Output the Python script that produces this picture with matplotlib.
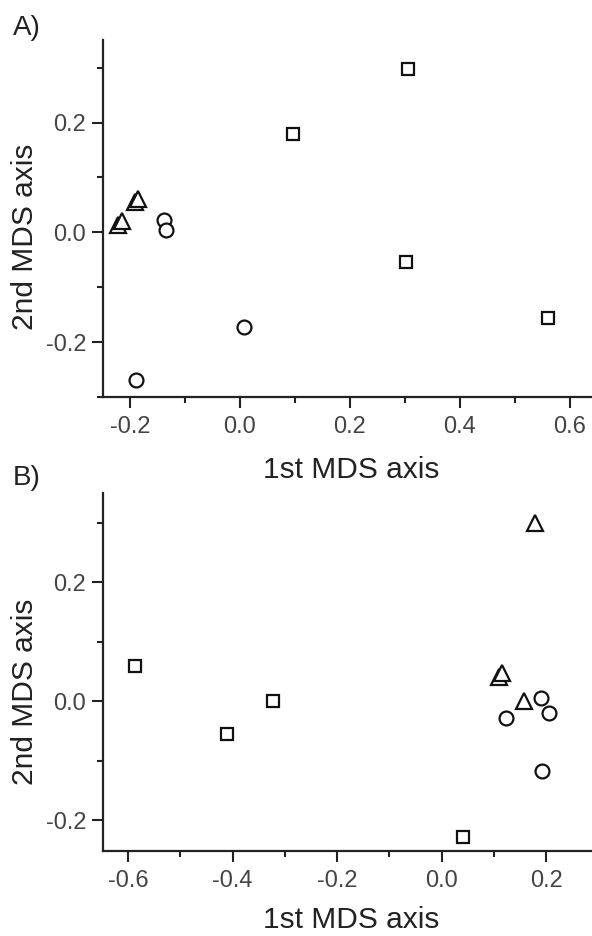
import matplotlib
matplotlib.use('Agg')
import matplotlib.pyplot as plt
from matplotlib.ticker import MultipleLocator, FormatStrFormatter

plt.rcParams['font.family'] = ['Liberation Sans', 'DejaVu Sans']

# 面板 A 数据
a_square_x = [0.305, 0.096, 0.302, 0.560]
a_square_y = [0.298, 0.180, -0.055, -0.156]
a_circle_x = [-0.138, -0.135, 0.007, -0.189]
a_circle_y = [0.022, 0.004, -0.173, -0.270]
a_tri_x = [-0.222, -0.215, -0.190, -0.185]
a_tri_y = [0.013, 0.020, 0.055, 0.061]

# 面板 B 数据
b_square_x = [-0.587, -0.323, -0.410, 0.042]
b_square_y = [0.060, 0.000, -0.055, -0.229]
b_circle_x = [0.190, 0.205, 0.123, 0.192]
b_circle_y = [0.005, -0.020, -0.028, -0.118]
b_tri_x = [0.179, 0.110, 0.115, 0.158]
b_tri_y = [0.300, 0.041, 0.048, 0.000]

a_xticks = [-0.2, 0.0, 0.2, 0.4, 0.6]
b_xticks = [-0.6, -0.4, -0.2, 0.0, 0.2]
yticks = [-0.2, 0.0, 0.2]

text_color = '#222222'

fig = plt.figure(figsize=(5.92, 9.36), dpi=100)
ax1 = fig.add_axes([0.174, 0.576, 0.826, 0.381])
ax2 = fig.add_axes([0.174, 0.0908, 0.826, 0.383])


def style_axis(ax, xlim, ylim, xticks, xlab_y, ylab_y):
    ax.set_xlim(*xlim)
    ax.set_ylim(*ylim)
    ax.set_xticks(xticks)
    ax.set_yticks(yticks)
    ax.xaxis.set_minor_locator(MultipleLocator(0.1))
    ax.yaxis.set_minor_locator(MultipleLocator(0.1))
    for side in ['top', 'right']:
        ax.spines[side].set_visible(False)
    for side in ['left', 'bottom']:
        ax.spines[side].set_linewidth(1.6)
        ax.spines[side].set_color('#222222')
    ax.tick_params(which='major', direction='out', length=8, width=1.5,
                   labelsize=17, colors='#222222', labelcolor='#444444', pad=4)
    ax.tick_params(axis='x', which='major', pad=6)
    ax.tick_params(which='minor', direction='out', length=4, width=1.5,
                   colors='#222222')
    ax.xaxis.set_major_formatter(FormatStrFormatter('%.1f'))
    ax.yaxis.set_major_formatter(FormatStrFormatter('%.1f'))
    ax.set_xlabel('1st MDS axis', fontsize=21.5, color=text_color, va='center')
    ax.set_ylabel('2nd MDS axis', fontsize=21.5, color=text_color, va='center')
    ax.xaxis.set_label_coords(0.507, xlab_y)
    ax.yaxis.set_label_coords(-0.16, ylab_y)


def draw_points(ax, sx, sy, cx, cy, tx, ty):
    kw = dict(linestyle='none', markerfacecolor='white', markeredgecolor='#111111',
              markeredgewidth=1.6, clip_on=False)
    ax.plot(sx, sy, marker='s', markersize=9, **kw)
    ax.plot(cx, cy, marker='o', markersize=10, **kw)
    ax.plot(tx, ty, marker='^', markersize=11, **kw)


draw_points(ax1, a_square_x, a_square_y, a_circle_x, a_circle_y, a_tri_x, a_tri_y)
style_axis(ax1, (-0.249, 0.64), (-0.30, 0.35), a_xticks, -0.204, 0.448)

draw_points(ax2, b_square_x, b_square_y, b_circle_x, b_circle_y, b_tri_x, b_tri_y)
style_axis(ax2, (-0.648, 0.288), (-0.252, 0.351), b_xticks, -0.193, 0.443)

fig.text(0.022, 0.970, 'A)', fontsize=20, color=text_color, va='center', ha='left')
fig.text(0.022, 0.489, 'B)', fontsize=20, color=text_color, va='center', ha='left')

plt.savefig('out.png', dpi=100, facecolor='white')
plt.close()
